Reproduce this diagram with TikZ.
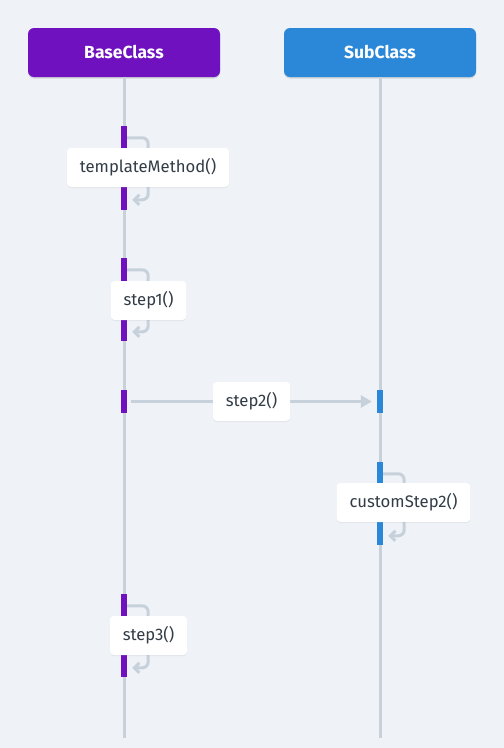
\documentclass[tikz,border=0pt]{standalone}
\usepackage{fontspec}
\setmainfont{Fira Sans}
\usetikzlibrary{arrows.meta,shadows,calc}
\definecolor{bgc}{HTML}{EFF2F6}
\definecolor{basec}{HTML}{6F11BE}
\definecolor{subc}{HTML}{2B88D8}
\definecolor{linec}{HTML}{C6D1DB}
\definecolor{txtc}{HTML}{323C46}
\tikzset{
  hdr/.style={rounded corners=6pt, minimum width=192pt, minimum height=49pt, inner sep=0pt,
    text=white, font=\fontsize{17.5}{20}\selectfont\bfseries,
    drop shadow={shadow xshift=0pt, shadow yshift=-1.5pt, opacity=0.12, fill=black}},
  life/.style={draw=linec, line width=3pt},
  bar/.style={minimum width=6pt, inner sep=0pt, draw=none},
  lbl/.style={fill=white, rounded corners=4pt, minimum height=39pt, inner xsep=13pt, inner ysep=0pt,
    text=txtc, font=\fontsize{16.7}{20}\selectfont,
    drop shadow={shadow xshift=0pt, shadow yshift=-1pt, opacity=0.06, fill=black}},
  selfloop/.style={draw=linec, line width=3pt, rounded corners=6pt,
    -{Straight Barb[length=5pt,width=10pt,line width=3pt]}},
  msg/.style={draw=linec, line width=3pt, -{Triangle[length=11pt,width=12pt]}},
}
\begin{document}
\begin{tikzpicture}[x=1pt,y=-1pt]
\useasboundingbox[fill=bgc] (0,0) rectangle (504,748);
% lifeline ends
\coordinate (baseend) at (124,738);
\coordinate (subend) at (380,738);
% headers
\node[hdr, fill=basec] (base) at (124,52.5) {BaseClass};
\node[hdr, fill=subc] (sub) at (380,52.5) {SubClass};
% lifelines
\draw[life] (base.south) -- (baseend);
\draw[life] (sub.south) -- (subend);
% activation bars
\node[bar, fill=basec, minimum height=84pt] (b1) at (124,168) {};
\node[bar, fill=basec, minimum height=83pt] (b2) at (124,299.5) {};
\node[bar, fill=basec, minimum height=23pt] (b3) at (124,401.5) {};
\node[bar, fill=subc, minimum height=23pt] (s1) at (380,401.5) {};
\node[bar, fill=subc, minimum height=83pt] (s2) at (380,503.5) {};
\node[bar, fill=basec, minimum height=83pt] (b4) at (124,635.5) {};
% self loops
\foreach \b in {b1,b2,s2,b4}{
  \draw[selfloop] ($(\b.north east)+(0,12)$) -- ++(21,0) -- ++(0,62) -- ++(-16,0);
}
% step2 message
\draw[msg, shorten <=4pt, shorten >=5pt] (b3.east) -- (s1.west);
% labels
\node[lbl] (l1) at (148,167.5) {templateMethod()};
\node[lbl] (l2) at (148.5,300.5) {step1()};
\node[lbl] (l3) at (251.5,401.5) {step2()};
\node[lbl] (l4) at (403.5,502.5) {customStep2()};
\node[lbl] (l5) at (148.5,635.5) {step3()};
\end{tikzpicture}
\end{document}
